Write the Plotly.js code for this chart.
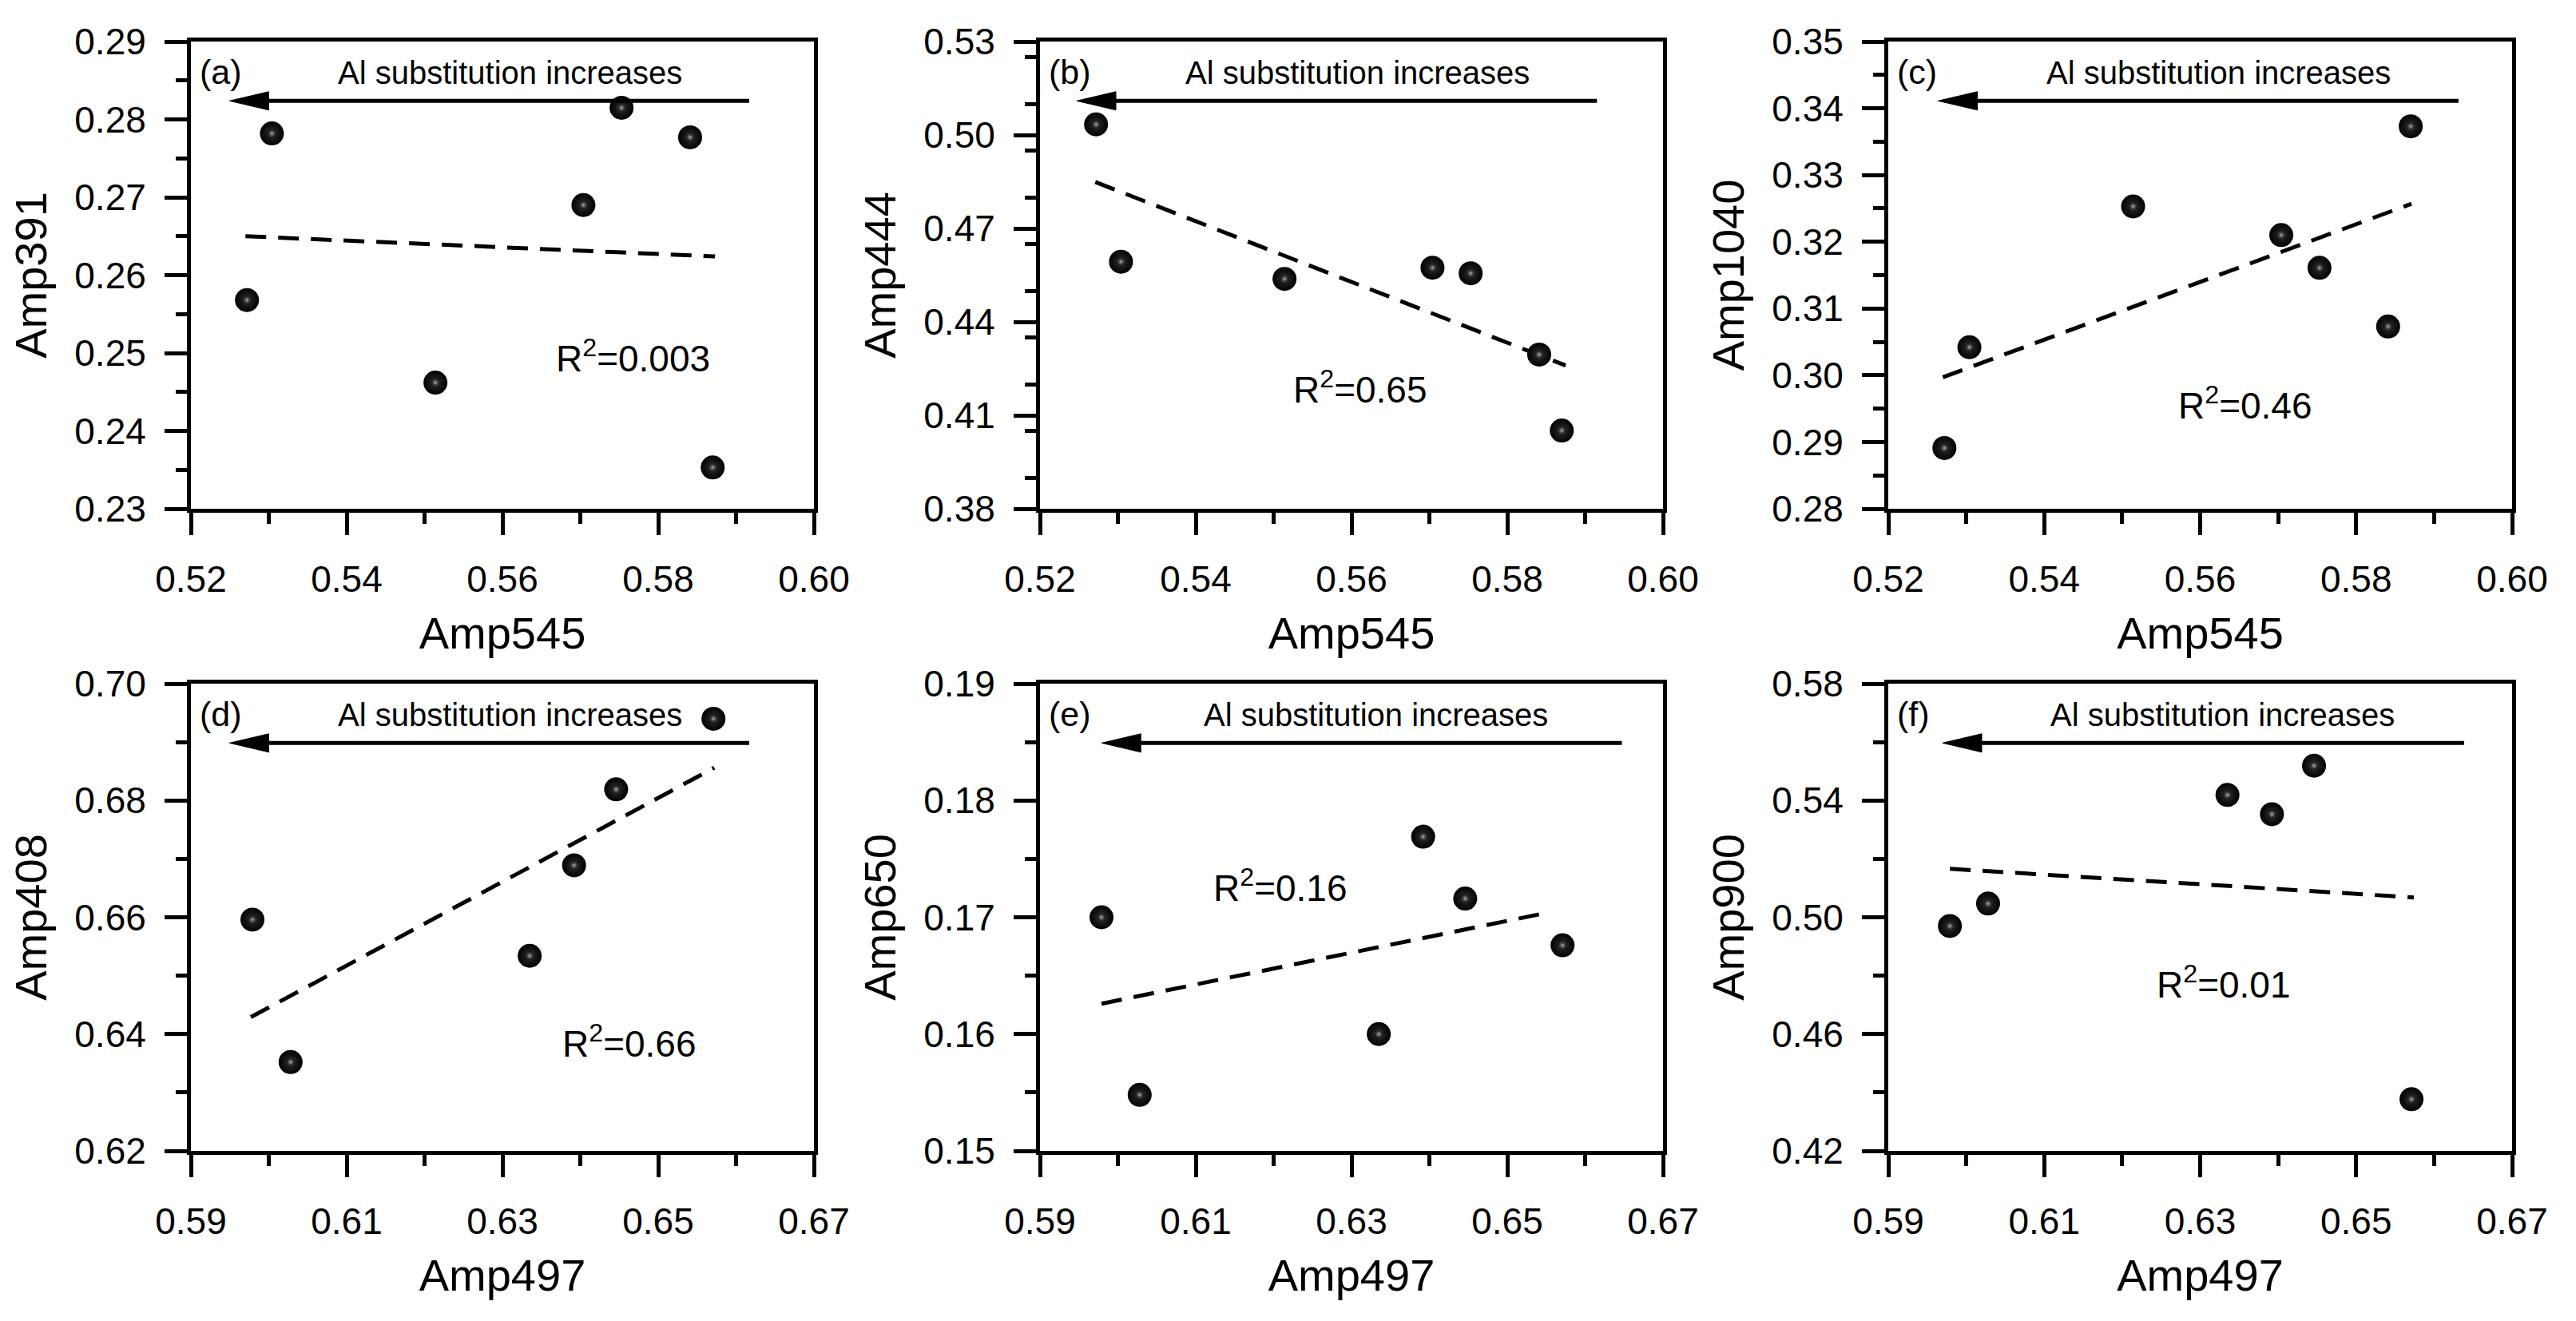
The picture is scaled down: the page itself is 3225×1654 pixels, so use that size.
<!DOCTYPE html>
<html>
<head>
<meta charset="utf-8">
<script src="https://cdn.plot.ly/plotly-3.0.1.min.js"></script>
<style>
  html, body { margin: 0; padding: 0; background: #fff; }
  #graph { width: 3225px; height: 1654px; }
</style>
</head>
<body>
<div id="graph"></div>
<script>
// values
const amp545 = [0.5272, 0.5304, 0.5514, 0.5704, 0.5753, 0.5841, 0.5870];
const amp391 = [0.2568, 0.2782, 0.2462, 0.2690, 0.2815, 0.2777, 0.2353];
const amp444 = [0.5034, 0.4593, 0.4538, 0.4574, 0.4556, 0.4295, 0.4051];
const amp1040 = [0.2891, 0.3042, 0.3253, 0.3210, 0.3161, 0.3073, 0.3373];

const amp497 = [0.5979, 0.6028, 0.6335, 0.6392, 0.6446, 0.6571];
const amp408 = [0.6596, 0.6352, 0.6534, 0.6689, 0.6819, 0.6940];
const amp650 = [0.1700, 0.1548, 0.1600, 0.1769, 0.1716, 0.1676];
const amp900 = [0.4970, 0.5047, 0.5419, 0.5353, 0.5519, 0.4377];

// dashed fit lines (end points)
const fitAx = [0.5270, 0.5873], fitAy = [0.2650, 0.2624];
const fitBx = [0.5271, 0.5875], fitBy = [0.4849, 0.4260];
const fitCx = [0.5270, 0.5871], fitCy = [0.2997, 0.3257];
const fitDx = [0.5977, 0.6572], fitDy = [0.6429, 0.6856];
const fitEx = [0.5979, 0.6552], fitEy = [0.1626, 0.1704];
const fitFx = [0.5979, 0.6574], fitFy = [0.5166, 0.5068];

const r2Labels = ['0.003', '0.65', '0.46', '0.66', '0.16', '0.01'];
const panelLabels = ['(a)', '(b)', '(c)', '(d)', '(e)', '(f)'];
const arrowText = 'Al substitution increases';

const FONT = 'Liberation Sans, Arial, sans-serif';
const W = 3225, H = 1654;

// panel setup: data + axis ranges + where the decorations sit (axis-domain fractions)
const panels = [
  {x: amp545, y: amp391, fx: fitAx, fy: fitAy, xt: 'Amp545', yt: 'Amp391',
   xr: [0.52, 0.60], xd: 0.02, yr: [0.23, 0.29], yd: 0.01,
   dom: [239, 1019, 52, 637], txt: 0.512, tail: 0.896, head: 0.062, r2: [0.709, 0.326]},
  {x: amp545, y: amp444, fx: fitBx, fy: fitBy, xt: 'Amp545', yt: 'Amp444',
   xr: [0.52, 0.60], xd: 0.02, yr: [0.38, 0.53], yd: 0.03,
   dom: [1302, 2082, 52, 637], txt: 0.510, tail: 0.894, head: 0.059, r2: [0.514, 0.260]},
  {x: amp545, y: amp1040, fx: fitCx, fy: fitCy, xt: 'Amp545', yt: 'Amp1040',
   xr: [0.52, 0.60], xd: 0.02, yr: [0.28, 0.35], yd: 0.01,
   dom: [2364, 3145, 52, 637], txt: 0.529, tail: 0.914, head: 0.080, r2: [0.572, 0.225]},
  {x: amp497, y: amp408, fx: fitDx, fy: fitDy, xt: 'Amp497', yt: 'Amp408',
   xr: [0.59, 0.67], xd: 0.02, yr: [0.62, 0.70], yd: 0.02,
   dom: [239, 1019, 856, 1441], txt: 0.512, tail: 0.896, head: 0.062, r2: [0.704, 0.234]},
  {x: amp497, y: amp650, fx: fitEx, fy: fitEy, xt: 'Amp497', yt: 'Amp650',
   xr: [0.59, 0.67], xd: 0.02, yr: [0.15, 0.19], yd: 0.01,
   dom: [1302, 2082, 856, 1441], txt: 0.539, tail: 0.934, head: 0.099, r2: [0.386, 0.567]},
  {x: amp497, y: amp900, fx: fitFx, fy: fitFy, xt: 'Amp497', yt: 'Amp900',
   xr: [0.59, 0.67], xd: 0.02, yr: [0.42, 0.58], yd: 0.04,
   dom: [2364, 3145, 856, 1441], txt: 0.536, tail: 0.923, head: 0.087, r2: [0.538, 0.360]}
];

const data = [];
const layout = {
  width: W, height: H,
  margin: {l: 0, r: 0, t: 0, b: 0, pad: 0},
  paper_bgcolor: '#fff', plot_bgcolor: '#fff',
  showlegend: false,
  font: {family: FONT, color: '#000', size: 44},
  annotations: [], shapes: []
};

function axisBase(range, dtick, title, isX) {
  return {
    range: range, dtick: dtick, tick0: range[0], tickformat: '.2f',
    showgrid: false, zeroline: false,
    showline: true, mirror: true, linecolor: '#000', linewidth: 5,
    ticks: 'outside', ticklen: 28, tickwidth: 5, tickcolor: '#000',
    ticklabelstandoff: isX ? 16 : 14,
    tickfont: {family: FONT, size: 46, color: '#000'},
    minor: {dtick: dtick / 2, ticks: 'outside', ticklen: 14, tickwidth: 5, tickcolor: '#000', showgrid: false},
    title: {text: title, font: {family: FONT, size: 56, color: '#000'}, standoff: isX ? 24 : 18},
    fixedrange: true
  };
}

panels.forEach(function(p, i) {
  const n = i === 0 ? '' : String(i + 1);
  const xa = 'x' + n, ya = 'y' + n;

  const xax = axisBase(p.xr, p.xd, p.xt, true);
  xax.domain = [p.dom[0] / W, p.dom[1] / W];
  xax.anchor = ya;
  const yax = axisBase(p.yr, p.yd, p.yt, false);
  yax.domain = [1 - p.dom[3] / H, 1 - p.dom[2] / H];
  yax.anchor = xa;
  layout['xaxis' + n] = xax;
  layout['yaxis' + n] = yax;

  // dashed fit line
  data.push({
    x: p.fx, y: p.fy, xaxis: xa, yaxis: ya, type: 'scatter', mode: 'lines',
    line: {color: '#000', width: 5, dash: '26px,15px'}, hoverinfo: 'skip'
  });
  // black balls
  data.push({
    x: p.x, y: p.y, xaxis: xa, yaxis: ya, type: 'scatter', mode: 'markers',
    marker: {size: 30, color: '#000', line: {width: 0},
             gradient: {type: 'radial', color: '#303030'}}
  });
  // highlight on the balls
  data.push({
    x: p.x, y: p.y, xaxis: xa, yaxis: ya, type: 'scatter', mode: 'markers',
    marker: {size: 11, color: 'rgba(40,40,40,0)', line: {width: 0},
             gradient: {type: 'radial', color: '#b8b8b8'}},
    hoverinfo: 'skip'
  });

  const xd = xa + ' domain', yd = ya + ' domain';
  layout.annotations.push(
    {xref: xd, yref: yd, x: 0.012, y: 0.935, xanchor: 'left', yanchor: 'middle',
     text: panelLabels[i], showarrow: false, font: {family: FONT, size: 43, color: '#000'}},
    {xref: xd, yref: yd, x: p.txt, y: 0.933, xanchor: 'center', yanchor: 'middle',
     text: arrowText, showarrow: false, font: {family: FONT, size: 40, color: '#000'}},
    {xref: xd, yref: yd, x: p.r2[0], y: p.r2[1], xanchor: 'center', yanchor: 'middle',
     text: 'R<sup>2</sup>=' + r2Labels[i], showarrow: false, font: {family: FONT, size: 46, color: '#000'}}
  );

  // arrow: shaft + triangular head
  const ay = 0.873, hl = 49 / 780, hh = 11.5 / 585;
  layout.shapes.push(
    {type: 'line', xref: xd, yref: yd, x0: p.tail, x1: p.head + hl * 0.8, y0: ay, y1: ay,
     line: {color: '#000', width: 5}},
    {type: 'path', xref: xd, yref: yd,
     path: 'M ' + p.head + ' ' + ay + ' L ' + (p.head + hl) + ' ' + (ay + hh) +
           ' L ' + (p.head + hl) + ' ' + (ay - hh) + ' Z',
     fillcolor: '#000', line: {color: '#000', width: 1}}
  );
});

Plotly.newPlot('graph', data, layout, {staticPlot: true});
</script>
</body>
</html>
